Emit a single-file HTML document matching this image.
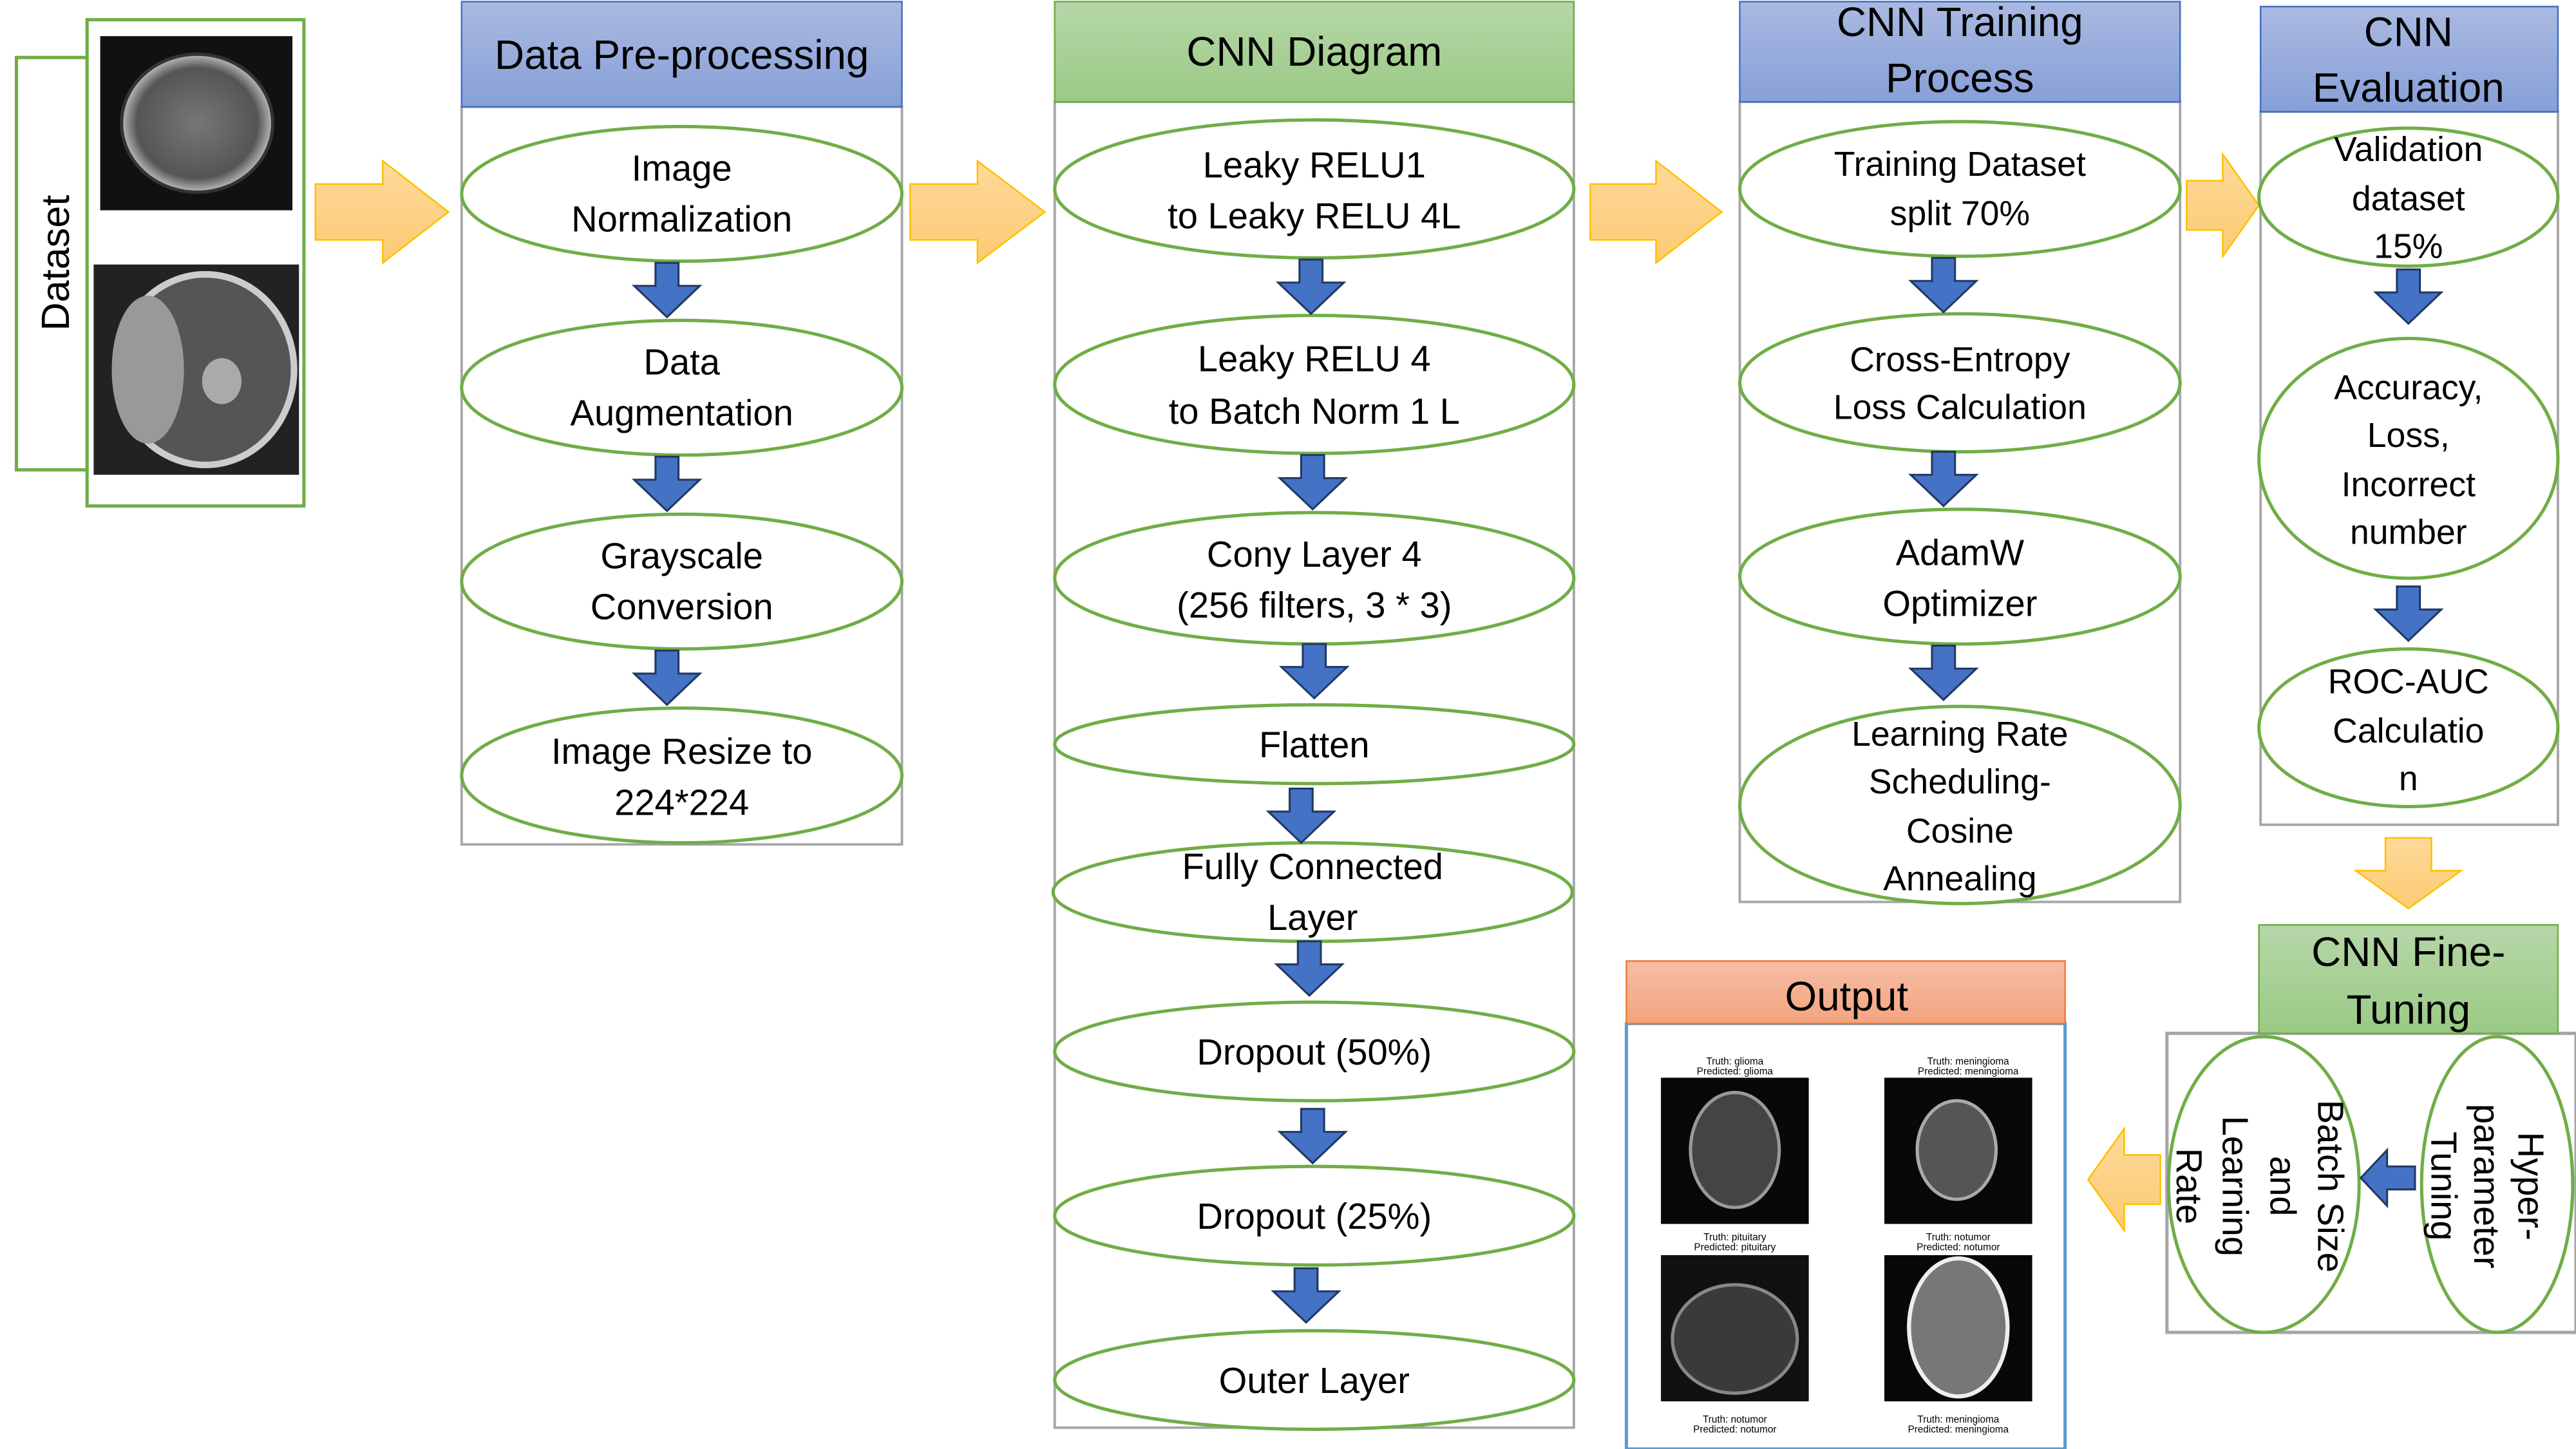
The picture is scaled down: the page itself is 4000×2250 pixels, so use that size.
<!DOCTYPE html>
<html><head><meta charset="utf-8"><style>
html,body{margin:0;padding:0;background:#fff;}
svg{display:block;}
text{font-family:"Liberation Sans",sans-serif;fill:#000;}
</style></head><body>
<svg width="4000" height="2250" viewBox="0 0 1568 882" xmlns="http://www.w3.org/2000/svg">
<defs>
<linearGradient id="gb" x1="0" y1="0" x2="0" y2="1"><stop offset="0" stop-color="#aab9e1"/><stop offset="1" stop-color="#87a0d8"/></linearGradient>
<linearGradient id="gg" x1="0" y1="0" x2="0" y2="1"><stop offset="0" stop-color="#b6d7a8"/><stop offset="1" stop-color="#9aca85"/></linearGradient>
<linearGradient id="go" x1="0" y1="0" x2="0" y2="1"><stop offset="0" stop-color="#f6bea6"/><stop offset="1" stop-color="#f3a47e"/></linearGradient>
<linearGradient id="gy" x1="0" y1="0" x2="0" y2="1"><stop offset="0" stop-color="#fdd99a"/><stop offset="1" stop-color="#fccb72"/></linearGradient>
<radialGradient id="br"><stop offset="0" stop-color="#777"/><stop offset="0.8" stop-color="#555"/><stop offset="1" stop-color="#bbb"/></radialGradient>
<g id="da"><polygon points="-7,0 7,0 7,14 20,14 0,33 -20,14 -7,14" fill="#4472c4" stroke="#203864" stroke-width="1.2"/></g>
</defs>

<!-- Dataset -->
<rect x="10" y="35" width="43" height="251" fill="none" stroke="#70ad47" stroke-width="2"/>
<rect x="53" y="12" width="132" height="296" fill="#fff" stroke="#70ad47" stroke-width="2"/>
<text transform="translate(42,160) rotate(-90)" text-anchor="middle" font-size="24">Dataset</text>
<rect x="61" y="22" width="117" height="106" fill="#111"/>
<ellipse cx="120" cy="75" rx="46" ry="42" fill="url(#br)" stroke="#333" stroke-width="2"/>
<rect x="57" y="161" width="125" height="128" fill="#222"/>
<ellipse cx="125" cy="225" rx="54" ry="58" fill="#555" stroke="#ccc" stroke-width="4"/>
<ellipse cx="90" cy="225" rx="22" ry="45" fill="#999"/>
<ellipse cx="135" cy="232" rx="12" ry="14" fill="#aaa"/>

<!-- orange arrows -->
<g fill="url(#gy)" stroke="#ffc000" stroke-width="1">
<polygon points="192,112 233,112 233,98 273,129 233,160 233,146 192,146"/>
<polygon points="554,112 595,112 595,98 636,129 595,160 595,146 554,146"/>
<polygon points="968,112 1008,112 1008,98 1048,129 1008,160 1008,146 968,146"/>
<polygon points="1331,110 1353,110 1353,94 1375,125 1353,156 1353,140 1331,140"/>
<polygon points="1452,510 1480,510 1480,530 1498,530 1466,553 1434,530 1452,530"/>
<polygon points="1315,703 1293,703 1293,687 1271,718 1293,749 1293,733 1315,733"/>
</g>

<!-- Panel 1 -->
<rect x="281" y="65" width="268" height="449" fill="#fff" stroke="#a6a6a6" stroke-width="1.5"/>
<rect x="281" y="1" width="268" height="64" fill="url(#gb)" stroke="#4472c4" stroke-width="1"/>
<text x="415" y="42" text-anchor="middle" font-size="25">Data Pre-processing</text>
<g fill="#fff" stroke="#70ad47" stroke-width="2">
<ellipse cx="415" cy="118" rx="134" ry="41"/>
<ellipse cx="415" cy="236" rx="134" ry="41"/>
<ellipse cx="415" cy="354" rx="134" ry="41"/>
<ellipse cx="415" cy="472" rx="134" ry="41"/>
</g>
<use href="#da" x="406" y="160"/><use href="#da" x="406" y="278"/><use href="#da" x="406" y="396"/>
<g font-size="22" text-anchor="middle">
<text x="415" y="110">Image</text><text x="415" y="141">Normalization</text>
<text x="415" y="228">Data</text><text x="415" y="259">Augmentation</text>
<text x="415" y="346">Grayscale</text><text x="415" y="377">Conversion</text>
<text x="415" y="465">Image Resize to</text><text x="415" y="496">224*224</text>
</g>

<!-- Panel 2 -->
<rect x="642" y="62" width="316" height="807" fill="#fff" stroke="#a6a6a6" stroke-width="1.5"/>
<rect x="642" y="1" width="316" height="61" fill="url(#gg)" stroke="#70ad47" stroke-width="1"/>
<text x="800" y="40" text-anchor="middle" font-size="25">CNN Diagram</text>
<g fill="#fff" stroke="#70ad47" stroke-width="2">
<ellipse cx="800" cy="115" rx="158" ry="42"/>
<ellipse cx="800" cy="234" rx="158" ry="42"/>
<ellipse cx="800" cy="352" rx="158" ry="40"/>
<ellipse cx="800" cy="453" rx="158" ry="24"/>
<ellipse cx="799" cy="543" rx="158" ry="30"/>
<ellipse cx="800" cy="640" rx="158" ry="30"/>
<ellipse cx="800" cy="740" rx="158" ry="30"/>
<ellipse cx="800" cy="840" rx="158" ry="30"/>
</g>
<use href="#da" x="798" y="158"/><use href="#da" x="799" y="277"/><use href="#da" x="800" y="392"/>
<use href="#da" x="792" y="480"/><use href="#da" x="797" y="573"/><use href="#da" x="799" y="675"/><use href="#da" x="795" y="772"/>
<g font-size="22" text-anchor="middle">
<text x="800" y="108">Leaky RELU1</text><text x="800" y="139">to Leaky RELU 4L</text>
<text x="800" y="226">Leaky RELU 4</text><text x="800" y="258">to Batch Norm 1 L</text>
<text x="800" y="345">Cony Layer 4</text><text x="800" y="376">(256 filters, 3 * 3)</text>
<text x="800" y="461">Flatten</text>
<text x="799" y="535">Fully Connected</text><text x="799" y="566">Layer</text>
<text x="800" y="648">Dropout (50%)</text>
<text x="800" y="748">Dropout (25%)</text>
<text x="800" y="848">Outer Layer</text>
</g>

<!-- Panel 3 -->
<rect x="1059" y="62" width="268" height="487" fill="#fff" stroke="#a6a6a6" stroke-width="1.5"/>
<rect x="1059" y="1" width="268" height="61" fill="url(#gb)" stroke="#4472c4" stroke-width="1"/>
<text x="1193" y="22" text-anchor="middle" font-size="25">CNN Training</text>
<text x="1193" y="56" text-anchor="middle" font-size="25">Process</text>
<g fill="#fff" stroke="#70ad47" stroke-width="2">
<ellipse cx="1193" cy="115" rx="134" ry="41"/>
<ellipse cx="1193" cy="233" rx="134" ry="42"/>
<ellipse cx="1193" cy="351" rx="134" ry="41"/>
<ellipse cx="1193" cy="490" rx="134" ry="60"/>
</g>
<use href="#da" x="1183" y="157"/><use href="#da" x="1183" y="275"/><use href="#da" x="1183" y="393"/>
<g font-size="21" text-anchor="middle">
<text x="1193" y="107">Training Dataset</text><text x="1193" y="137">split 70%</text>
<text x="1193" y="226">Cross-Entropy</text><text x="1193" y="255">Loss Calculation</text>
<text x="1193" y="344" font-size="22">AdamW</text><text x="1193" y="375" font-size="22">Optimizer</text>
<text x="1193" y="454">Learning Rate</text><text x="1193" y="483">Scheduling-</text>
<text x="1193" y="513">Cosine</text><text x="1193" y="542">Annealing</text>
</g>

<!-- Panel 4 -->
<rect x="1376" y="68" width="181" height="434" fill="#fff" stroke="#a6a6a6" stroke-width="1.5"/>
<rect x="1376" y="4" width="181" height="64" fill="url(#gb)" stroke="#4472c4" stroke-width="1"/>
<text x="1466" y="28" text-anchor="middle" font-size="25">CNN</text>
<text x="1466" y="62" text-anchor="middle" font-size="25">Evaluation</text>
<g fill="#fff" stroke="#70ad47" stroke-width="2">
<ellipse cx="1466" cy="120" rx="91" ry="42"/>
<ellipse cx="1466" cy="279" rx="91" ry="73"/>
<ellipse cx="1466" cy="443" rx="91" ry="48"/>
</g>
<use href="#da" x="1466" y="164"/><use href="#da" x="1466" y="357"/>
<g font-size="21" text-anchor="middle">
<text x="1466" y="98">Validation</text><text x="1466" y="128">dataset</text><text x="1466" y="157">15%</text>
<text x="1466" y="243">Accuracy,</text><text x="1466" y="272">Loss,</text><text x="1466" y="302">Incorrect</text><text x="1466" y="331">number</text>
<text x="1466" y="422">ROC-AUC</text><text x="1466" y="452">Calculatio</text><text x="1466" y="481">n</text>
</g>

<!-- Fine tuning -->
<rect x="1319" y="629" width="249" height="182" fill="#fff" stroke="#a6a6a6" stroke-width="2"/>
<rect x="1375" y="563" width="182" height="66" fill="url(#gg)" stroke="#70ad47" stroke-width="1"/>
<text x="1466" y="588" text-anchor="middle" font-size="25">CNN Fine-</text>
<text x="1466" y="623" text-anchor="middle" font-size="25">Tuning</text>
<g fill="#fff" stroke="#70ad47" stroke-width="2">
<ellipse cx="1378" cy="721" rx="58" ry="90"/>
<ellipse cx="1520" cy="721" rx="46" ry="90"/>
</g>
<polygon points="1470,710 1453,710 1453,700 1437,717 1453,734 1453,724 1470,724" fill="#4472c4" stroke="#203864" stroke-width="1.2"/>
<g font-size="22" text-anchor="middle">
<text transform="translate(1533,722) rotate(90)">Hyper-</text>
<text transform="translate(1506,722) rotate(90)">parameter</text>
<text transform="translate(1480,722) rotate(90)">Tuning</text>
<text transform="translate(1411,722) rotate(90)">Batch Size</text>
<text transform="translate(1382,722) rotate(90)">and</text>
<text transform="translate(1353,722) rotate(90)">Learning</text>
<text transform="translate(1325,722) rotate(90)">Rate</text>
</g>

<!-- Output -->
<rect x="990" y="623" width="267" height="259" fill="#fff" stroke="#5b9bd5" stroke-width="2"/>
<rect x="990" y="585" width="267" height="38" fill="url(#go)" stroke="#ed7d31" stroke-width="1"/>
<text x="1124" y="615" text-anchor="middle" font-size="25">Output</text>
<rect x="1011" y="656" width="90" height="89" fill="#080808"/>
<ellipse cx="1056" cy="700" rx="27" ry="35" fill="#444" stroke="#999" stroke-width="2"/>
<rect x="1147" y="656" width="90" height="89" fill="#080808"/>
<ellipse cx="1191" cy="700" rx="24" ry="30" fill="#555" stroke="#aaa" stroke-width="2"/>
<rect x="1011" y="764" width="90" height="89" fill="#111"/>
<ellipse cx="1056" cy="815" rx="38" ry="33" fill="#3a3a3a" stroke="#888" stroke-width="2"/>
<rect x="1147" y="764" width="90" height="89" fill="#080808"/>
<ellipse cx="1192" cy="808" rx="30" ry="42" fill="#777" stroke="#eee" stroke-width="2.5"/>
<g font-size="6" text-anchor="middle" fill="#222">
<text x="1056" y="648">Truth: glioma</text><text x="1056" y="654">Predicted: glioma</text>
<text x="1198" y="648">Truth: meningioma</text><text x="1198" y="654">Predicted: meningioma</text>
<text x="1056" y="755">Truth: pituitary</text><text x="1056" y="761">Predicted: pituitary</text>
<text x="1192" y="755">Truth: notumor</text><text x="1192" y="761">Predicted: notumor</text>
<text x="1056" y="866">Truth: notumor</text><text x="1056" y="872">Predicted: notumor</text>
<text x="1192" y="866">Truth: meningioma</text><text x="1192" y="872">Predicted: meningioma</text>
</g>
</svg>
</body></html>
